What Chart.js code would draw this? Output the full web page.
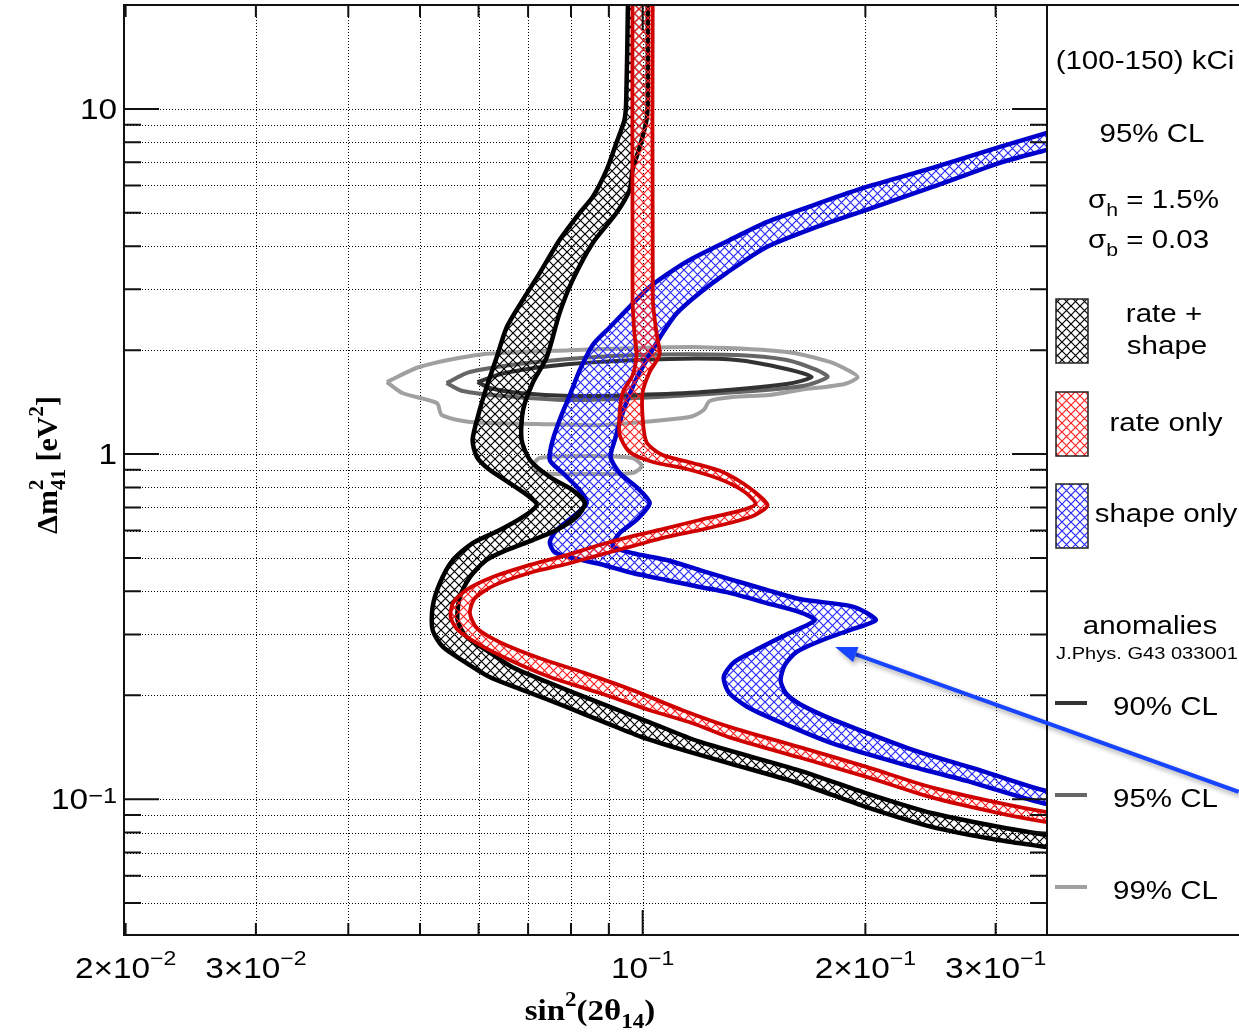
<!DOCTYPE html>
<html>
<head>
<meta charset="utf-8">
<script src="https://cdn.jsdelivr.net/npm/chart.js@4"></script>
<style>
  html, body { margin: 0; padding: 0; background: #fff; }
  canvas { display: block; }
</style>
</head>
<body>
<canvas id="c" width="1239" height="1035"></canvas>
<script>
// axis ranges (log scales)
const xMin = 0.0199, xMax = 0.352;
const yMin = 0.0404, yMax = 20;

// grid / ticks
const xGrid = [0.03, 0.04, 0.05, 0.06, 0.07, 0.08, 0.09, 0.1, 0.2, 0.3];
const xMajor = [0.1];
const xLabelValues = [0.02, 0.03, 0.1, 0.2, 0.3];
const xLabelBase = ['2×10', '3×10', '10', '2×10', '3×10'];
const xLabelExp = ['−2', '−2', '−1', '−1', '−1'];
const yGrid = [0.05, 0.06, 0.07, 0.08, 0.09, 0.1, 0.2, 0.3, 0.4, 0.5, 0.6, 0.7, 0.8, 0.9,
               1, 2, 3, 4, 5, 6, 7, 8, 9, 10];
const yMajor = [0.1, 1, 10];
const yLabelValues = [0.1, 1, 10];
const yLabelBase = ['10', '1', '10'];
const yLabelExp = ['−1', '', ''];

// rate + shape band, two edges [sin2(2theta), dm2]
const rateShapeOuter = [
  [0.0955,30],[0.0955,20],[0.095,10.6],[0.0945,9.3],[0.0922,8.0],[0.0894,6.66],[0.0856,5.56],
  [0.0822,5.0],[0.0772,4.17],[0.0726,3.35],[0.0689,2.80],[0.0655,2.33],[0.0635,1.91],[0.0615,1.56],
  [0.0602,1.34],[0.0589,1.10],[0.0597,0.98],[0.0621,0.90],[0.0661,0.824],[0.0704,0.75],[0.0719,0.711],
  [0.0689,0.657],[0.0641,0.602],[0.0589,0.552],[0.0554,0.493],[0.0532,0.423],[0.052,0.36],[0.052,0.309],
  [0.0537,0.276],[0.0578,0.248],[0.0621,0.226],[0.0689,0.207],[0.0789,0.185],[0.0894,0.166],[0.1,0.151],
  [0.1132,0.139],[0.131,0.127],[0.163,0.111],[0.2007,0.0948],[0.2465,0.083],[0.304,0.076],[0.352,0.0726],
  [0.45,0.067]
];
const rateShapeInner = [
  [0.1016,30],[0.1016,20],[0.1016,10.6],[0.1012,9.3],[0.0991,7.76],[0.0969,6.66],[0.096,5.82],
  [0.0922,5.0],[0.0856,4.09],[0.0804,3.19],[0.0772,2.56],[0.0742,1.91],[0.071,1.606],[0.0689,1.34],
  [0.0686,1.10],[0.0704,0.961],[0.0749,0.858],[0.0804,0.786],[0.0835,0.721],[0.0814,0.657],[0.0765,0.602],
  [0.071,0.563],[0.0655,0.527],[0.0615,0.493],[0.0584,0.44],[0.0566,0.385],[0.0562,0.33],[0.0578,0.295],
  [0.0615,0.27],[0.0667,0.241],[0.0749,0.217],[0.0875,0.19],[0.1022,0.167],[0.119,0.147],[0.163,0.121],
  [0.2007,0.104],[0.2465,0.091],[0.304,0.083],[0.352,0.0787],[0.45,0.0725]
];

// rate only band
const rateOnlyA = [
  [0.0969,30],[0.0969,2.80],[0.0975,2.21],[0.0981,1.94],[0.0969,1.69],[0.094,1.51],[0.0931,1.32],
  [0.0931,1.135],[0.096,1.013],[0.1032,0.948],[0.1147,0.905],[0.1271,0.846],[0.1374,0.776],[0.1421,0.716],
  [0.1352,0.684],[0.1194,0.644],[0.1078,0.61],[0.0969,0.578],[0.0875,0.545],[0.078,0.506],[0.0697,0.474],
  [0.0627,0.44],[0.0578,0.404],[0.0554,0.37],[0.055,0.337],[0.0561,0.311],[0.0597,0.283],[0.0661,0.253],
  [0.0749,0.226],[0.0875,0.203],[0.1022,0.181],[0.1168,0.166],[0.131,0.151],[0.163,0.132],[0.2007,0.116],
  [0.2465,0.101],[0.304,0.091],[0.352,0.0858],[0.45,0.079]
];
const rateOnlyB = [
  [0.1032,30],[0.1032,2.80],[0.1045,2.21],[0.1054,1.94],[0.1022,1.73],[0.1,1.51],[0.1,1.27],
  [0.1012,1.083],[0.1064,0.993],[0.1168,0.942],[0.1283,0.887],[0.1395,0.797],[0.1475,0.711],[0.1417,0.665],
  [0.1311,0.631],[0.1194,0.602],[0.1078,0.575],[0.0969,0.541],[0.0875,0.51],[0.078,0.477],[0.071,0.455],
  [0.0631,0.417],[0.0593,0.382],[0.0584,0.346],[0.0597,0.313],[0.0641,0.285],[0.0726,0.256],[0.083,0.233],
  [0.0969,0.207],[0.1132,0.181],[0.131,0.162],[0.163,0.1415],[0.2007,0.124],[0.2465,0.108],[0.304,0.0974],
  [0.352,0.0917],[0.45,0.0845]
];

// shape only band
const shapeOnlyA = [
  [0.45,10.0],[0.352,8.52],[0.304,7.76],[0.2465,6.75],[0.2007,5.94],[0.1718,5.30],[0.1471,4.70],
  [0.1311,4.17],[0.1194,3.78],[0.1132,3.55],[0.1022,3.05],[0.096,2.67],[0.0903,2.33],[0.0856,2.07],
  [0.0822,1.75],[0.0797,1.48],[0.0777,1.30],[0.0756,1.10],[0.0749,0.961],[0.078,0.881],[0.0822,0.786],
  [0.084,0.721],[0.0804,0.657],[0.0765,0.602],[0.0749,0.556],[0.076,0.52],[0.0804,0.50],[0.0875,0.48],
  [0.0969,0.452],[0.1078,0.431],[0.1194,0.412],[0.1311,0.396],[0.1471,0.37],[0.163,0.348],[0.1708,0.33],
  [0.158,0.303],[0.1439,0.274],[0.1331,0.25],[0.1287,0.226],[0.1307,0.204],[0.1386,0.185],[0.1546,0.166],
  [0.1806,0.145],[0.2225,0.127],[0.274,0.113],[0.352,0.0967],[0.45,0.088]
];
const shapeOnlyB = [
  [0.45,8.8],[0.352,7.61],[0.304,6.98],[0.2465,5.94],[0.2007,5.10],[0.1718,4.55],[0.1471,3.98],
  [0.1299,3.35],[0.1194,2.93],[0.1112,2.56],[0.1064,2.24],[0.1012,1.87],[0.0975,1.61],[0.094,1.32],
  [0.0917,1.10],[0.0905,0.98],[0.0931,0.881],[0.0981,0.802],[0.1022,0.721],[0.0981,0.644],[0.0931,0.59],
  [0.0911,0.541],[0.0969,0.516],[0.1078,0.493],[0.1194,0.461],[0.1311,0.434],[0.1471,0.404],[0.163,0.38],
  [0.1905,0.363],[0.2001,0.348],[0.2065,0.33],[0.1905,0.309],[0.1734,0.287],[0.1615,0.267],[0.1556,0.2445],
  [0.1536,0.221],[0.1561,0.203],[0.163,0.1886],[0.1762,0.174],[0.1965,0.1585],[0.2346,0.1377],[0.288,0.1206],
  [0.352,0.1055],[0.45,0.0955]
];

// anomalies contours (closed)
const anom90 = [
  [0.0598,1.617],[0.0651,1.717],[0.0797,1.823],[0.1088,1.886],[0.134,1.873],[0.1565,1.764],[0.1692,1.672],
  [0.1565,1.596],[0.1205,1.512],[0.0981,1.483],[0.0797,1.473],[0.0682,1.502],[0.0621,1.553],[0.0598,1.617]
];
const anom95 = [
  [0.0543,1.606],[0.0584,1.729],[0.0719,1.848],[0.0981,1.936],[0.134,1.936],[0.1565,1.873],[0.1718,1.752],
  [0.1778,1.672],[0.1645,1.575],[0.134,1.512],[0.0981,1.453],[0.0797,1.434],[0.0647,1.473],[0.0571,1.522],
  [0.0543,1.606]
];
const anom99 = [
  [0.0451,1.617],[0.05,1.79],[0.0602,1.94],[0.0797,2.0],[0.0981,2.03],[0.1205,2.04],[0.1565,1.976],
  [0.179,1.85],[0.1894,1.75],[0.1952,1.67],[0.1875,1.596],[0.163,1.533],[0.1484,1.483],[0.1323,1.463],
  [0.1232,1.424],[0.1209,1.341],[0.1157,1.28],[0.0883,1.214],[0.0719,1.222],[0.0584,1.238],[0.0535,1.297],
  [0.0527,1.405],[0.0474,1.50],[0.0451,1.617]
];
const anom99Island = [
  [0.0708,0.929],[0.0726,0.974],[0.083,0.987],[0.0969,0.974],[0.0997,0.923],[0.0969,0.881],
  [0.083,0.875],[0.0726,0.881],[0.0708,0.929]
];

// annotation arrow (data coords)
const arrowFrom = [0.639, 0.105];
const arrowTo = [0.182, 0.276];

const canvas = document.getElementById('c');
const ctx = canvas.getContext('2d');

function hatch(color) {
  const s = 9;
  const c = document.createElement('canvas');
  c.width = s; c.height = s;
  const g = c.getContext('2d');
  g.strokeStyle = color;
  g.lineWidth = 1.2;
  g.beginPath();
  g.moveTo(0, 0); g.lineTo(s, s);
  g.moveTo(s, 0); g.lineTo(0, s);
  g.stroke();
  return ctx.createPattern(c, 'repeat');
}
const hatchBlack = hatch('#000');
const hatchRed = hatch('#ff2020');
const hatchBlue = hatch('#2a2aff');

const pts = arr => arr.map(([x, y]) => ({x, y}));
const band = (a, b) => pts(a.concat(b.slice().reverse()));

const SANS = '"Liberation Sans", Arial, Helvetica, sans-serif';
const SERIF = '"Liberation Serif", "Times New Roman", serif';
const sans = s => `${s}px ${SANS}`;
const serifB = s => `bold ${s}px ${SERIF}`;

function drawRuns(c, runs, x, y, align, sx) {
  let w = 0;
  runs.forEach(r => {
    c.font = r.font;
    r.w = r.stack
      ? Math.max(c.measureText(r.stack[0]).width, c.measureText(r.stack[1]).width) * sx
      : c.measureText(r.t).width * sx;
    w += r.w;
  });
  let cx = align === 'center' ? x - w / 2 : (align === 'right' ? x - w : x);
  c.textAlign = 'left';
  c.textBaseline = 'alphabetic';
  runs.forEach(r => {
    c.font = r.font;
    const put = (t, dy) => {
      c.save(); c.translate(cx, y + dy); c.scale(sx, 1); c.fillText(t, 0, 0); c.restore();
    };
    if (r.stack) { put(r.stack[0], r.up); put(r.stack[1], r.down); }
    else put(r.t, r.dy || 0);
    cx += r.w;
  });
}

const rootStyle = {
  id: 'rootStyle',
  beforeDatasetsDraw(chart) {
    const {ctx: c, chartArea: a, scales: {x, y}} = chart;
    c.save();
    c.strokeStyle = '#000';
    c.lineWidth = 1;
    c.setLineDash([1, 2]);
    c.beginPath();
    xGrid.forEach(v => {
      const px = Math.round(x.getPixelForValue(v)) + 0.5;
      c.moveTo(px, a.top); c.lineTo(px, a.bottom);
    });
    yGrid.forEach(v => {
      const py = Math.round(y.getPixelForValue(v)) + 0.5;
      c.moveTo(a.left, py); c.lineTo(a.right, py);
    });
    c.stroke();
    c.restore();
  },
  afterDraw(chart) {
    const {ctx: c, chartArea: a, scales: {x, y}} = chart;
    c.save();

    // ticks (inside the frame, all four sides)
    c.strokeStyle = '#111';
    c.lineWidth = 2;
    c.beginPath();
    xGrid.concat([0.02]).forEach(v => {
      const px = x.getPixelForValue(v);
      const len = xMajor.includes(v) ? 25 : 12;
      c.moveTo(px, a.bottom); c.lineTo(px, a.bottom - len);
      c.moveTo(px, a.top); c.lineTo(px, a.top + len);
    });
    yGrid.forEach(v => {
      const py = y.getPixelForValue(v);
      const len = yMajor.includes(v) ? 35 : 17;
      c.moveTo(a.left, py); c.lineTo(a.left + len, py);
      c.moveTo(a.right, py); c.lineTo(a.right - len, py);
    });
    c.stroke();

    // frame + legend pave
    c.lineWidth = 2;
    c.strokeRect(a.left, a.top, a.right - a.left, a.bottom - a.top);
    c.strokeRect(a.right, a.top, 200, a.bottom - a.top);

    // tick labels
    c.fillStyle = '#000';
    xLabelValues.forEach((v, i) => {
      const px = x.getPixelForValue(v);
      drawRuns(c, [
        {t: xLabelBase[i], font: sans(29)},
        {t: xLabelExp[i], font: sans(20), dy: -13}
      ], px, 978, 'center', 1.15);
    });
    yLabelValues.forEach((v, i) => {
      const py = y.getPixelForValue(v);
      const runs = [{t: yLabelBase[i], font: sans(29)}];
      if (yLabelExp[i]) runs.push({t: yLabelExp[i], font: sans(22), dy: -6});
      drawRuns(c, runs, 117, py + 10, 'right', 1.15);
    });

    // axis titles
    drawRuns(c, [
      {t: 'sin', font: serifB(30)},
      {t: '2', font: serifB(21), dy: -14},
      {t: '(2θ', font: serifB(30)},
      {t: '14', font: serifB(21), dy: 8},
      {t: ')', font: serifB(30)}
    ], 590, 1020, 'center', 1.1);
    c.save();
    c.translate(57, 465);
    c.rotate(-Math.PI / 2);
    drawRuns(c, [
      {t: 'Δm', font: serifB(30)},
      {stack: ['2', '41'], font: serifB(21), up: -14, down: 8},
      {t: ' [eV', font: serifB(30)},
      {t: '2', font: serifB(21), dy: -14},
      {t: ']', font: serifB(30)}
    ], 0, 0, 'center', 1);
    c.restore();

    // legend
    const sx = 1.18;
    drawRuns(c, [{t: '(100-150) kCi', font: sans(25)}], 1145, 69, 'center', sx);
    drawRuns(c, [{t: '95% CL', font: sans(25)}], 1152, 142, 'center', sx);
    drawRuns(c, [{t: 'σ', font: sans(25)}, {t: 'h', font: sans(18), dy: 8}, {t: ' = 1.5%', font: sans(25)}],
      1088, 208, 'left', sx);
    drawRuns(c, [{t: 'σ', font: sans(25)}, {t: 'b', font: sans(18), dy: 8}, {t: ' = 0.03', font: sans(25)}],
      1088, 248, 'left', sx);

    const boxes = [[299, hatchBlack], [392, hatchRed], [484, hatchBlue]];
    boxes.forEach(([top, pat]) => {
      c.fillStyle = pat;
      c.fillRect(1056, top, 32, 64);
      c.strokeStyle = '#222';
      c.lineWidth = 1.5;
      c.strokeRect(1056, top, 32, 64);
    });
    c.fillStyle = '#000';
    drawRuns(c, [{t: 'rate +', font: sans(25)}], 1164, 322, 'center', sx);
    drawRuns(c, [{t: 'shape', font: sans(25)}], 1167, 354, 'center', sx);
    drawRuns(c, [{t: 'rate only', font: sans(25)}], 1166, 431, 'center', sx);
    drawRuns(c, [{t: 'shape only', font: sans(25)}], 1166, 522, 'center', sx);
    drawRuns(c, [{t: 'anomalies', font: sans(25)}], 1150, 634, 'center', sx);
    drawRuns(c, [{t: 'J.Phys. G43 033001', font: sans(17)}], 1147, 659, 'center', sx);

    const lines = [[703, '#333', '90% CL'], [795, '#666', '95% CL'], [887, '#a0a0a0', '99% CL']];
    lines.forEach(([ly, col, label]) => {
      c.strokeStyle = col;
      c.lineWidth = 4;
      c.beginPath(); c.moveTo(1055, ly); c.lineTo(1087, ly); c.stroke();
      drawRuns(c, [{t: label, font: sans(25)}], 1113, ly + 12, 'left', sx);
    });

    // annotation arrow
    const x0 = x.getPixelForValue(arrowFrom[0]), y0 = y.getPixelForValue(arrowFrom[1]);
    const x1 = x.getPixelForValue(arrowTo[0]), y1 = y.getPixelForValue(arrowTo[1]);
    const ang = Math.atan2(y1 - y0, x1 - x0);
    const hl = 22, hw = 8;
    const bx = x1 - hl * Math.cos(ang), by = y1 - hl * Math.sin(ang);
    c.shadowColor = 'rgba(0,0,0,0.35)';
    c.shadowBlur = 5;
    c.shadowOffsetX = 2;
    c.shadowOffsetY = 3;
    c.strokeStyle = '#1744ff';
    c.fillStyle = '#1744ff';
    c.lineWidth = 4;
    c.beginPath(); c.moveTo(x0, y0); c.lineTo(bx, by); c.stroke();
    c.beginPath();
    c.moveTo(x1, y1);
    c.lineTo(bx + hw * Math.sin(ang), by - hw * Math.cos(ang));
    c.lineTo(bx - hw * Math.sin(ang), by + hw * Math.cos(ang));
    c.closePath();
    c.fill();
    c.restore();
  }
};

const lineBase = {pointRadius: 0, tension: 0.25, borderJoinStyle: 'round', clip: 0};

new Chart(ctx, {
  type: 'line',
  data: {
    datasets: [
      Object.assign({label: 'rate only', data: band(rateOnlyA, rateOnlyB), borderColor: '#d00000',
        borderWidth: 3.8, backgroundColor: hatchRed, fill: 'shape', order: 1}, lineBase),
      Object.assign({label: 'rate + shape', data: band(rateShapeOuter, rateShapeInner), borderColor: '#000',
        borderWidth: 4.5, backgroundColor: hatchBlack, fill: 'shape', order: 2}, lineBase),
      Object.assign({label: 'shape only', data: band(shapeOnlyA, shapeOnlyB), borderColor: '#0000cc',
        borderWidth: 4.5, backgroundColor: hatchBlue, fill: 'shape', order: 3}, lineBase),
      Object.assign({label: '90% CL', data: pts(anom90), borderColor: '#333', borderWidth: 4,
        fill: false, order: 5}, lineBase),
      Object.assign({label: '95% CL', data: pts(anom95), borderColor: '#666', borderWidth: 4,
        fill: false, order: 6}, lineBase),
      Object.assign({label: '99% CL', data: pts(anom99), borderColor: '#a0a0a0', borderWidth: 4,
        fill: false, order: 7}, lineBase),
      Object.assign({label: '99% CL (island)', data: pts(anom99Island), borderColor: '#a0a0a0', borderWidth: 4,
        fill: false, order: 7}, lineBase)
    ]
  },
  options: {
    responsive: false,
    animation: false,
    events: [],
    layout: {padding: {left: 124, right: 192, top: 5, bottom: 100}},
    elements: {line: {capBezierPoints: false}},
    scales: {
      x: {type: 'logarithmic', min: xMin, max: xMax, display: false},
      y: {type: 'logarithmic', min: yMin, max: yMax, display: false}
    },
    plugins: {legend: {display: false}, tooltip: {enabled: false}}
  },
  plugins: [rootStyle]
});
</script>
</body>
</html>
